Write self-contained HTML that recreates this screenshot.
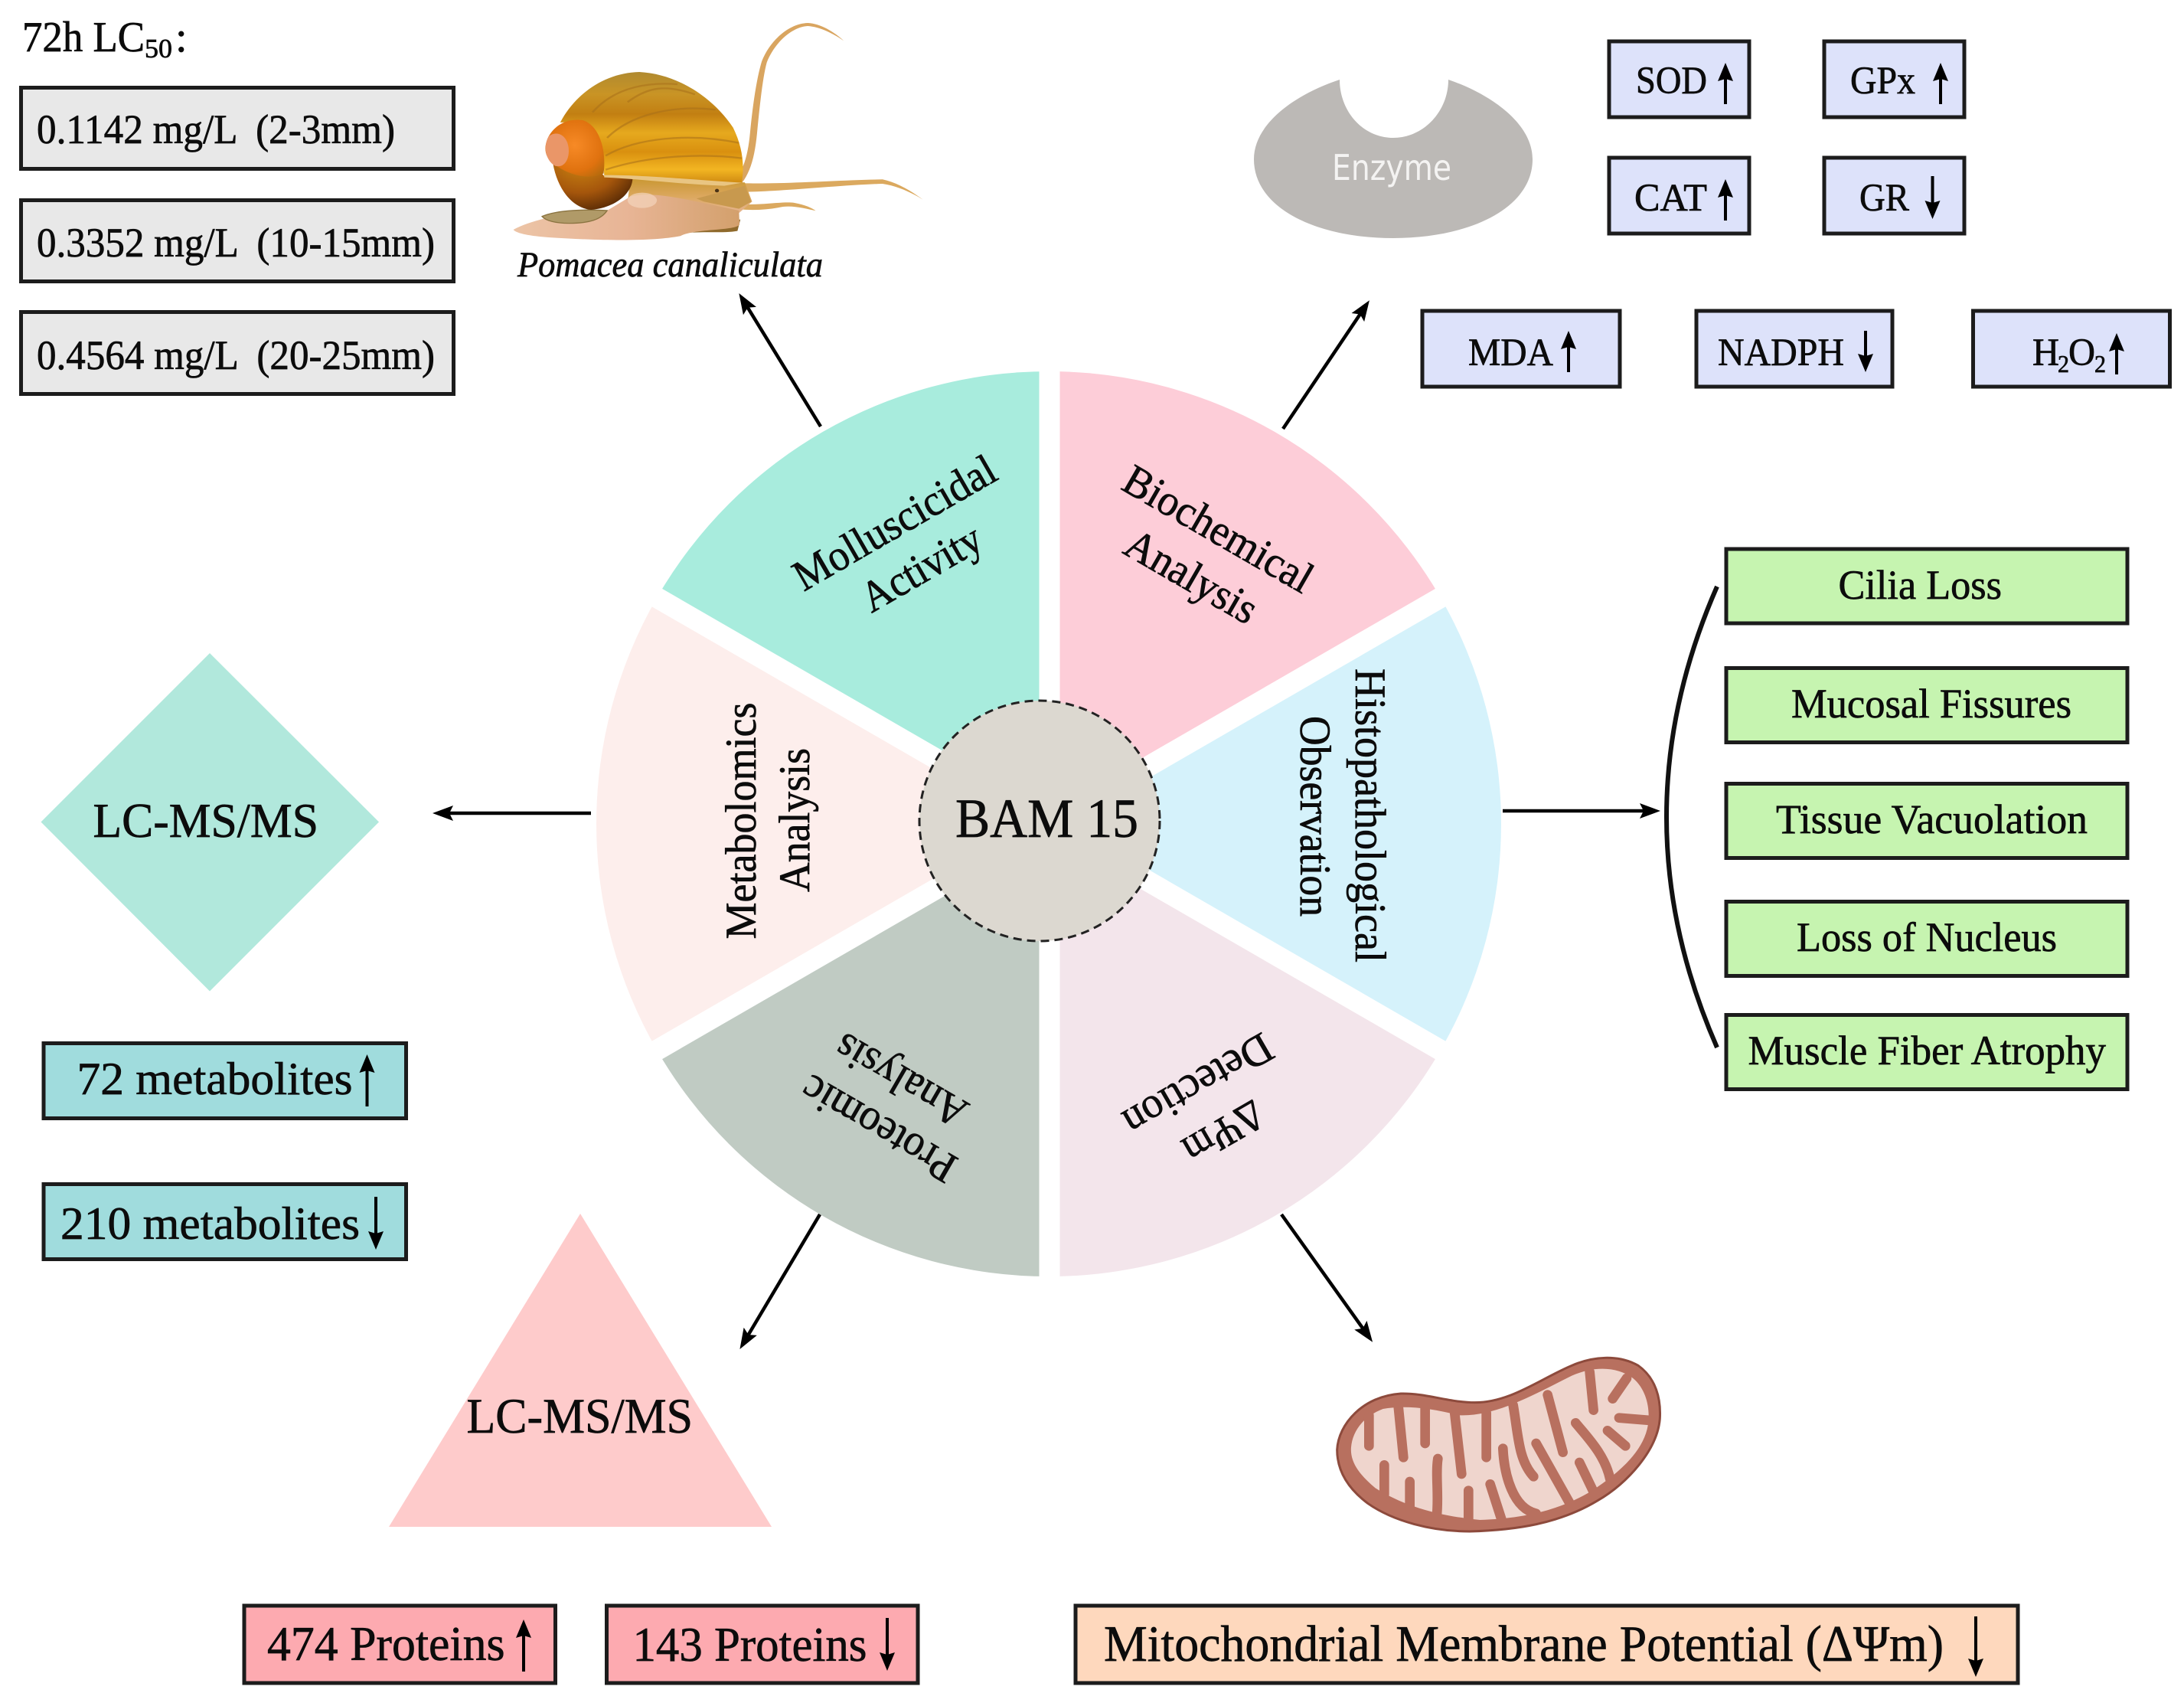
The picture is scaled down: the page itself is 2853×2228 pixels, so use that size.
<!DOCTYPE html>
<html lang="en">
<head>
<meta charset="utf-8">
<title>BAM 15 overview</title>
<style>
html,body{margin:0;padding:0;background:#fff}
svg{display:block}
text{font-family:"Liberation Serif","DejaVu Serif",serif;fill:#0c0c0c;stroke:#0c0c0c;stroke-width:.7}
.b{stroke:#1c1c1c;stroke-width:5}
.a{stroke:#000;stroke-width:4.5;fill:none;marker-end:url(#h)}
.s{stroke:#000;stroke-width:4;fill:none;marker-end:url(#sh)}
</style>
</head>
<body>
<svg xmlns="http://www.w3.org/2000/svg" width="2853" height="2228" viewBox="0 0 2853 2228">
<defs>
<marker id="h" markerUnits="userSpaceOnUse" markerWidth="30" markerHeight="24" viewBox="0 0 30 24" refX="20" refY="12" orient="auto"><path d="M0,2 L27,12 L0,22 L5,12Z" fill="#000"/></marker>
<marker id="sh" markerUnits="userSpaceOnUse" markerWidth="30" markerHeight="24" viewBox="0 0 30 24" refX="19" refY="12" orient="auto"><path d="M0,2 L24,12 L0,22 L3,12Z" fill="#000"/></marker>
<linearGradient id="shell" x1="0" y1="0" x2="0" y2="1">
<stop offset="0" stop-color="#b08a30"/><stop offset=".2" stop-color="#c99425"/><stop offset=".38" stop-color="#c27f12"/><stop offset=".55" stop-color="#e6a91e"/><stop offset=".72" stop-color="#d9900f"/><stop offset=".88" stop-color="#f2b522"/><stop offset="1" stop-color="#cf8a12"/>
</linearGradient>
<linearGradient id="foot" x1="0" y1="0" x2="1" y2="0">
<stop offset="0" stop-color="#ecc4a6"/><stop offset=".5" stop-color="#e8b596"/><stop offset="1" stop-color="#d3a06c"/>
</linearGradient>
<linearGradient id="neck" x1="0" y1="0" x2="0" y2="1">
<stop offset="0" stop-color="#c8962f"/><stop offset=".55" stop-color="#dca860"/><stop offset="1" stop-color="#e6b592"/>
</linearGradient>
<radialGradient id="spire" cx=".5" cy=".45" r=".7">
<stop offset="0" stop-color="#f78a26"/><stop offset=".65" stop-color="#e0720f"/><stop offset="1" stop-color="#b06a0c"/>
</radialGradient>
<radialGradient id="whorl" cx=".35" cy=".25" r=".9">
<stop offset="0" stop-color="#cf8a12"/><stop offset=".55" stop-color="#a5560c"/><stop offset="1" stop-color="#3f1c03"/>
</radialGradient>
</defs>

<rect width="2853" height="2228" fill="#fff"/>

<!-- LC50 -->
<text x="29" y="67" font-size="56" textLength="160" lengthAdjust="spacingAndGlyphs">72h LC</text>
<text x="189" y="75" font-size="35" textLength="36" lengthAdjust="spacingAndGlyphs">50</text>
<text x="229" y="67" font-size="56">:</text>
<rect class="b" x="27.5" y="114.5" width="565" height="106" fill="#e8e8e8"/>
<rect class="b" x="27.5" y="261.5" width="565" height="106" fill="#e8e8e8"/>
<rect class="b" x="27.5" y="407.5" width="565" height="107" fill="#e8e8e8"/>
<text x="48" y="187" font-size="54" textLength="468" lengthAdjust="spacingAndGlyphs" xml:space="preserve">0.1142 mg/L  (2-3mm)</text>
<text x="48" y="335" font-size="54" textLength="520" lengthAdjust="spacingAndGlyphs" xml:space="preserve">0.3352 mg/L  (10-15mm)</text>
<text x="48" y="482" font-size="54" textLength="520" lengthAdjust="spacingAndGlyphs" xml:space="preserve">0.4564 mg/L  (20-25mm)</text>

<!-- Snail -->
<g transform="translate(640,0) scale(.3827,.3333)">
<path d="M800,740 C860,700 880,620 888,520 C898,400 912,300 928,240 C955,160 1020,92 1085,90 C1130,93 1175,125 1208,160 C1170,130 1125,105 1085,102 C1030,105 970,170 945,245 C932,300 922,400 912,520 C902,640 880,710 825,755Z" fill="#d9a560"/>
<path d="M865,718 C1000,722 1200,705 1340,703 C1390,715 1440,750 1478,782 C1440,755 1390,728 1340,720 C1200,725 1000,750 870,752Z" fill="#dba95f"/>
<path d="M850,800 C930,805 1000,788 1040,795 C1075,802 1100,815 1112,826 C1080,818 1040,805 1000,810 C950,822 900,825 850,820Z" fill="#dba95f"/>
<path d="M480,695 L870,715 L895,790 L850,835 L600,800 L470,790Z" fill="url(#neck)"/>
<path d="M650,915 C720,905 800,915 845,905 L855,860 L760,880Z" fill="#8f6a2c"/>
<path d="M80,900 C150,855 300,825 400,825 L480,770 C560,745 700,790 850,825 L852,880 C840,905 700,895 650,925 C560,945 400,945 200,930 C140,925 90,915 80,900Z" fill="url(#foot)"/>
<ellipse cx="520" cy="785" rx="50" ry="30" fill="#f3d4bc" opacity=".7"/>
<path d="M178,848 C230,822 330,820 400,825 C380,860 340,875 270,875 C225,875 190,865 178,848Z" fill="#b09a68" stroke="#8b7441" stroke-width="4"/>
<path d="M215,640 C230,740 280,815 345,822 C425,815 485,760 487,700 L390,690 L300,560Z" fill="url(#whorl)"/>
<path d="M390,690 C390,600 360,520 320,475 L240,480 C290,370 390,285 510,282 C640,290 760,380 830,500 C860,570 870,640 860,715 C700,725 540,690 390,690Z" fill="url(#shell)"/>
<path d="M400,540 C480,450 620,410 770,430 M395,610 C500,540 680,520 850,560 M395,665 C540,610 720,600 860,620 M350,440 C420,350 520,320 640,330 M470,400 C540,340 600,330 700,370" fill="none" stroke="#a8701a" stroke-width="7" opacity=".55"/>
<path d="M215,640 C185,612 183,575 200,535 C225,485 270,462 320,472 C375,495 398,590 388,680 C340,705 270,690 215,640Z" fill="url(#spire)"/>
<path d="M200,535 C182,575 188,625 222,650 C262,662 276,605 266,565 C256,525 225,512 200,535Z" fill="#ea9668"/>
<path d="M390,686 C520,685 700,705 860,716 L800,728 C650,722 520,702 390,695Z" fill="#e9c582"/>
<circle cx="775" cy="747" r="7" fill="#4c3418"/>
<path d="M705,778 L870,728 L892,790 L850,818 L730,790Z" fill="#c8994e"/>
</g>
<text x="676" y="361" font-size="47" font-style="italic" textLength="399" lengthAdjust="spacingAndGlyphs">Pomacea canaliculata</text>

<!-- Enzyme -->
<path d="M1750,104 C1695,122 1638,160 1638,208 C1638,272 1720,311 1820,311 C1920,311 2002,272 2002,208 C2002,160 1945,122 1892,104 C1892,145 1860,180 1820,180 C1780,180 1750,145 1750,104Z" fill="#bcb9b6"/>
<text x="1740" y="235" font-size="46" textLength="156" lengthAdjust="spacingAndGlyphs" style="font-family:'DejaVu Sans','Liberation Sans',sans-serif;fill:#f4f3f2;stroke:none">Enzyme</text>

<!-- Blue boxes -->
<rect class="b" x="2102" y="54" width="183" height="99" fill="#dde2fa"/>
<rect class="b" x="2383" y="54" width="183" height="99" fill="#dde2fa"/>
<rect class="b" x="2102" y="206" width="183" height="99" fill="#dde2fa"/>
<rect class="b" x="2383" y="206" width="183" height="99" fill="#dde2fa"/>
<rect class="b" x="1858" y="406" width="258" height="99" fill="#dde2fa"/>
<rect class="b" x="2216" y="406" width="256" height="99" fill="#dde2fa"/>
<rect class="b" x="2577.5" y="406" width="257" height="99" fill="#dde2fa"/>
<text x="2137" y="122" font-size="51" textLength="93" lengthAdjust="spacingAndGlyphs">SOD</text>
<text x="2417" y="122" font-size="51" textLength="85" lengthAdjust="spacingAndGlyphs">GPx</text>
<text x="2135" y="275" font-size="51" textLength="95" lengthAdjust="spacingAndGlyphs">CAT</text>
<text x="2429" y="275" font-size="51" textLength="65" lengthAdjust="spacingAndGlyphs">GR</text>
<text x="1918" y="477" font-size="51" textLength="111" lengthAdjust="spacingAndGlyphs">MDA</text>
<text x="2244" y="477" font-size="51" textLength="165" lengthAdjust="spacingAndGlyphs">NADPH</text>
<text x="2655" y="477" font-size="51" textLength="35" lengthAdjust="spacingAndGlyphs">H</text>
<text x="2688" y="486" font-size="32" textLength="15" lengthAdjust="spacingAndGlyphs">2</text>
<text x="2702" y="477" font-size="51" textLength="35" lengthAdjust="spacingAndGlyphs">O</text>
<text x="2736" y="486" font-size="32" textLength="15" lengthAdjust="spacingAndGlyphs">2</text>
<line class="s" x1="2254" y1="136" x2="2254" y2="87"/>
<line class="s" x1="2535" y1="136" x2="2535" y2="87"/>
<line class="s" x1="2254" y1="288" x2="2254" y2="239"/>
<line class="s" x1="2524.5" y1="230" x2="2524.5" y2="281"/>
<line class="s" x1="2049" y1="486" x2="2049" y2="437"/>
<line class="s" x1="2437" y1="432" x2="2437" y2="481"/>
<line class="s" x1="2765" y1="489" x2="2765" y2="440"/>

<!-- Wheel -->
<path d="M1370,1076 L1370,485 A591,591 0 0 0 858.2,780.5Z" fill="#a8ecdd"/>
<path d="M1370,1076 L1370,485 A591,591 0 0 1 1881.8,780.5Z" fill="#fdcdd8"/>
<path d="M1370,1076 L1881.8,780.5 A591,591 0 0 1 1881.8,1371.5Z" fill="#d5f2fb"/>
<path d="M1370,1076 L1881.8,1371.5 A591,591 0 0 1 1370,1667Z" fill="#f3e5eb"/>
<path d="M1370,1076 L1370,1667 A591,591 0 0 1 858.2,1371.5Z" fill="#c0cbc3"/>
<path d="M1370,1076 L858.2,1371.5 A591,591 0 0 1 858.2,780.5Z" fill="#fdeeec"/>
<line x1="1371" y1="470" x2="1371" y2="1680" stroke="#fff" stroke-width="27"/>
<line x1="840" y1="770" x2="1900" y2="1382" stroke="#fff" stroke-width="27"/>
<line x1="840" y1="1382" x2="1900" y2="770" stroke="#fff" stroke-width="27"/>
<circle cx="1358" cy="1072" r="157" fill="#dcd8d0" stroke="#222" stroke-width="3" stroke-dasharray="11 7"/>
<text x="1248" y="1093" font-size="72" textLength="239" lengthAdjust="spacingAndGlyphs">BAM 15</text>

<g font-size="57">
<text text-anchor="middle" transform="translate(1178,699) rotate(-30)" textLength="296" lengthAdjust="spacingAndGlyphs">Molluscicidal</text>
<text text-anchor="middle" transform="translate(1213,758) rotate(-30)" textLength="172" lengthAdjust="spacingAndGlyphs">Activity</text>
<text text-anchor="middle" transform="translate(1582,707) rotate(30)" textLength="276" lengthAdjust="spacingAndGlyphs">Biochemical</text>
<text text-anchor="middle" transform="translate(1547,769) rotate(30)" textLength="190" lengthAdjust="spacingAndGlyphs">Analysis</text>
<text text-anchor="middle" transform="translate(1771,1065) rotate(90)" textLength="384" lengthAdjust="spacingAndGlyphs">Histopathological</text>
<text text-anchor="middle" transform="translate(1699,1066) rotate(90)" textLength="262" lengthAdjust="spacingAndGlyphs">Observation</text>
<text text-anchor="middle" transform="translate(987,1072) rotate(-90)" textLength="309" lengthAdjust="spacingAndGlyphs">Metabolomics</text>
<text text-anchor="middle" transform="translate(1057,1071) rotate(-90)" textLength="188" lengthAdjust="spacingAndGlyphs">Analysis</text>
<text text-anchor="middle" transform="translate(1556,1401) rotate(150)" textLength="215" lengthAdjust="spacingAndGlyphs">Detection</text>
<text text-anchor="middle" transform="translate(1589,1463) rotate(150)" textLength="112" lengthAdjust="spacingAndGlyphs">ΔΨm</text>
<text text-anchor="middle" transform="translate(1157,1458) rotate(210)" textLength="224" lengthAdjust="spacingAndGlyphs">Proteomic</text>
<text text-anchor="middle" transform="translate(1186,1395) rotate(210)" textLength="190" lengthAdjust="spacingAndGlyphs">Analysis</text>
</g>

<!-- Connectors -->
<line class="a" x1="1072" y1="557" x2="969" y2="389"/>
<line class="a" x1="1676" y1="560" x2="1785" y2="398"/>
<line class="a" x1="1963" y1="1059" x2="2162" y2="1059"/>
<line class="a" x1="772" y1="1062" x2="572" y2="1062"/>
<line class="a" x1="1071" y1="1586" x2="970" y2="1756"/>
<line class="a" x1="1674" y1="1586" x2="1789" y2="1747"/>

<!-- Histopathology -->
<path d="M2243,766 Q2111,1067 2243,1368" fill="none" stroke="#111" stroke-width="6"/>
<rect class="b" x="2255" y="717" width="524" height="97" fill="#c6f4b0"/>
<rect class="b" x="2255" y="872.5" width="524" height="97" fill="#c6f4b0"/>
<rect class="b" x="2255" y="1023.5" width="524" height="97" fill="#c6f4b0"/>
<rect class="b" x="2255" y="1177.5" width="524" height="97" fill="#c6f4b0"/>
<rect class="b" x="2255" y="1325.5" width="524" height="97" fill="#c6f4b0"/>
<text x="2401.5" y="782" font-size="54" textLength="213.5" lengthAdjust="spacingAndGlyphs">Cilia Loss</text>
<text x="2340" y="937" font-size="54" textLength="366" lengthAdjust="spacingAndGlyphs">Mucosal Fissures</text>
<text x="2320" y="1088" font-size="54" textLength="407" lengthAdjust="spacingAndGlyphs">Tissue Vacuolation</text>
<text x="2347" y="1242" font-size="54" textLength="340" lengthAdjust="spacingAndGlyphs">Loss of Nucleus</text>
<text x="2283.5" y="1390" font-size="54" textLength="467.5" lengthAdjust="spacingAndGlyphs">Muscle Fiber Atrophy</text>

<!-- Metabolomics -->
<polygon points="274,853 495,1073.5 274,1294.5 53.5,1073.5" fill="#b1e8dc"/>
<text x="121.5" y="1093" font-size="63" textLength="294.5" lengthAdjust="spacingAndGlyphs">LC-MS/MS</text>
<rect class="b" x="57" y="1362.5" width="473.5" height="98" fill="#a0dcdd"/>
<rect class="b" x="57" y="1546.5" width="473.5" height="98" fill="#a0dcdd"/>
<text x="100.5" y="1429" font-size="60" textLength="360" lengthAdjust="spacingAndGlyphs">72 metabolites</text>
<text x="79" y="1618" font-size="60" textLength="391" lengthAdjust="spacingAndGlyphs">210 metabolites</text>
<line class="s" x1="479.5" y1="1445" x2="479.5" y2="1382"/>
<line class="s" x1="491" y1="1563" x2="491" y2="1627"/>

<!-- Proteomics -->
<polygon points="758,1585 1008,1994 508,1994" fill="#fecbcb"/>
<text x="609.5" y="1871" font-size="65" textLength="295.5" lengthAdjust="spacingAndGlyphs">LC-MS/MS</text>
<rect class="b" x="319" y="2097" width="406.5" height="101" fill="#fdaab0"/>
<rect class="b" x="792.5" y="2097" width="406.5" height="101" fill="#fdaab0"/>
<text x="349" y="2168" font-size="63" textLength="310.5" lengthAdjust="spacingAndGlyphs">474 Proteins</text>
<text x="826.5" y="2169" font-size="63" textLength="306" lengthAdjust="spacingAndGlyphs">143 Proteins</text>
<line class="s" x1="684" y1="2183" x2="684" y2="2120"/>
<line class="s" x1="1159" y1="2113" x2="1159" y2="2177"/>

<!-- Mitochondrion -->
<g transform="translate(1720,1760) scale(.3333)">
<path d="M80,400 C85,300 180,190 330,180 C430,178 520,215 620,215 C760,215 880,120 1000,70 C1080,35 1180,25 1260,70 C1330,120 1350,200 1345,280 C1335,400 1220,530 1100,600 C950,690 780,715 600,720 C450,720 300,680 200,610 C120,550 80,480 80,400Z" fill="#b8705f" stroke="#8d4a3c" stroke-width="9"/>
<path d="M135,390 C140,330 180,270 260,240 C340,225 440,235 560,265 C700,270 840,190 1000,110 C1090,70 1180,75 1240,120 C1300,170 1310,260 1295,320 C1270,420 1170,500 1080,560 C950,640 800,670 640,675 C480,660 340,620 230,550 C170,500 130,450 135,390Z" fill="#efd5cd"/>
<g fill="none" stroke="#b8705f" stroke-width="38" stroke-linecap="round" stroke-linejoin="round">
<path d="M205,265V385"/><path d="M320,230L340,430"/><path d="M425,230V375"/><path d="M540,250L568,495"/><path d="M665,255V430"/>
<path d="M770,225C790,340 790,440 850,505"/><path d="M905,185L965,410"/><path d="M1070,95L1085,245"/><path d="M1215,120L1160,200"/><path d="M1305,285L1185,275"/>
<path d="M265,460V575"/><path d="M365,525V645"/><path d="M475,435C465,500 480,580 470,665"/><path d="M595,560V695"/><path d="M680,535L725,675"/>
<path d="M730,395C735,500 770,630 860,650"/><path d="M860,375L995,615"/><path d="M1030,450L1090,575"/><path d="M1015,295C1060,350 1130,420 1150,515"/><path d="M1140,325L1210,385"/>
</g>
</g>

<rect class="b" x="1405" y="2097" width="1231" height="101" fill="#fed8bd"/>
<text x="1442" y="2169" font-size="67" textLength="1097" lengthAdjust="spacingAndGlyphs">Mitochondrial Membrane Potential (ΔΨm)</text>
<line class="s" x1="2581" y1="2111" x2="2581" y2="2185"/>
</svg>
</body>
</html>
